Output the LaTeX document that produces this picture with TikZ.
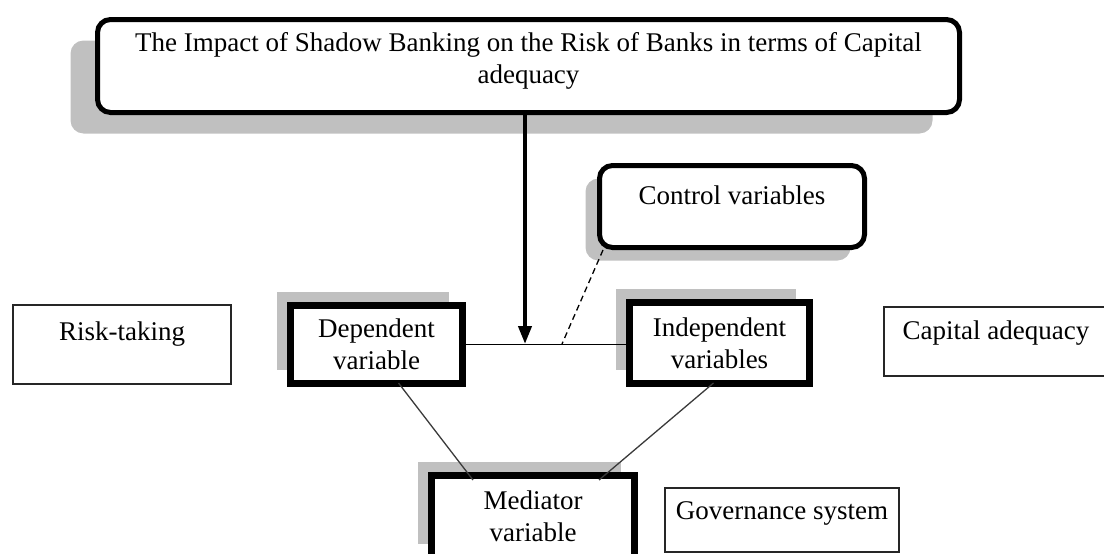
\documentclass[tikz,border=0pt]{standalone}
\usepackage{fontspec}
\setmainfont{Liberation Serif}
\usetikzlibrary{arrows.meta,shadows}
\definecolor{shadegray}{HTML}{C0C0C0}
\definecolor{linegray}{HTML}{3A3A3A}
\tikzset{
  base/.style={draw=black, fill=white, align=center, inner sep=0pt,
    font=\fontsize{27}{32}\selectfont},
  roundbox/.style={base, rounded corners=13pt, line width=5pt},
  heavybox/.style={base, line width=7pt},
  plainbox/.style={base, line width=2pt, draw=black!85},
  shadeup/.style={copy shadow={shadow xshift=-14pt, shadow yshift=14pt, fill=shadegray, draw=none}},
  link/.style={line width=1.5pt, draw=black},
  slant/.style={line width=1.3pt, draw=linegray},
}
\begin{document}
\begin{tikzpicture}[x=1pt, y=-1pt]
  \useasboundingbox (0,0) rectangle (1104,554);
  \clip (0,0) rectangle (1104,554);

  % title box with its drop shadow
  \node[roundbox, minimum width=862pt, minimum height=93pt,
        copy shadow={shadow xshift=-27pt, shadow yshift=-21pt, fill=shadegray, draw=none}]
    (main) at (528.5,66)
    {The Impact of Shadow Banking on the Risk of Banks in terms of Capital\\adequacy\\[-26pt]\strut};

  % control variables box
  \node[roundbox, minimum width=265pt, minimum height=82pt,
        copy shadow={shadow xshift=-14pt, shadow yshift=-13pt, fill=shadegray, draw=none}]
    (ctrl) at (732,206.5) {Control variables\\[-18pt]\strut};

  % variable boxes
  \node[heavybox, shadeup, minimum width=172pt, minimum height=78pt]
    (dep) at (376.5,344.5) {Dependent\\variable};
  \node[heavybox, shadeup, minimum width=180pt, minimum height=81pt]
    (ind) at (719.5,343) {Independent\\variables};
  \node[heavybox, shadeup, minimum width=203pt, minimum height=82pt]
    (med) at (533,516.5) {Mediator\\variable};

  % measures
  \node[plainbox, minimum width=218pt, minimum height=79pt]
    (risk) at (122,344.5) {Risk-taking\\[-14pt]\strut};
  \node[plainbox, minimum width=224pt, minimum height=69pt]
    (cap) at (996,341.5) {Capital adequacy\\[-18pt]\strut};
  \node[plainbox, minimum width=234pt, minimum height=64pt]
    (gov) at (782,520) {Governance system\\[-22pt]\strut};

  % connectors
  \coordinate (j) at (525,344);
  \coordinate (d) at (562,344);
  \draw[link] (dep.east) -- (dep.east -| ind.west);
  \draw[line width=4pt, -{Triangle[length=18pt, width=13pt]}] (main.south -| j) -- (j);
  \draw[line width=1.3pt, dashed, dash pattern=on 6pt off 4pt] ([xshift=6pt]ctrl.south west) -- (d);
  \draw[slant] ([xshift=22pt, yshift=4pt]dep.south) -- ([xshift=-60pt, yshift=-8pt]med.north);
  \draw[slant] ([xshift=-6pt, yshift=4pt]ind.south) -- ([xshift=66pt, yshift=-8pt]med.north);
\end{tikzpicture}
\end{document}
